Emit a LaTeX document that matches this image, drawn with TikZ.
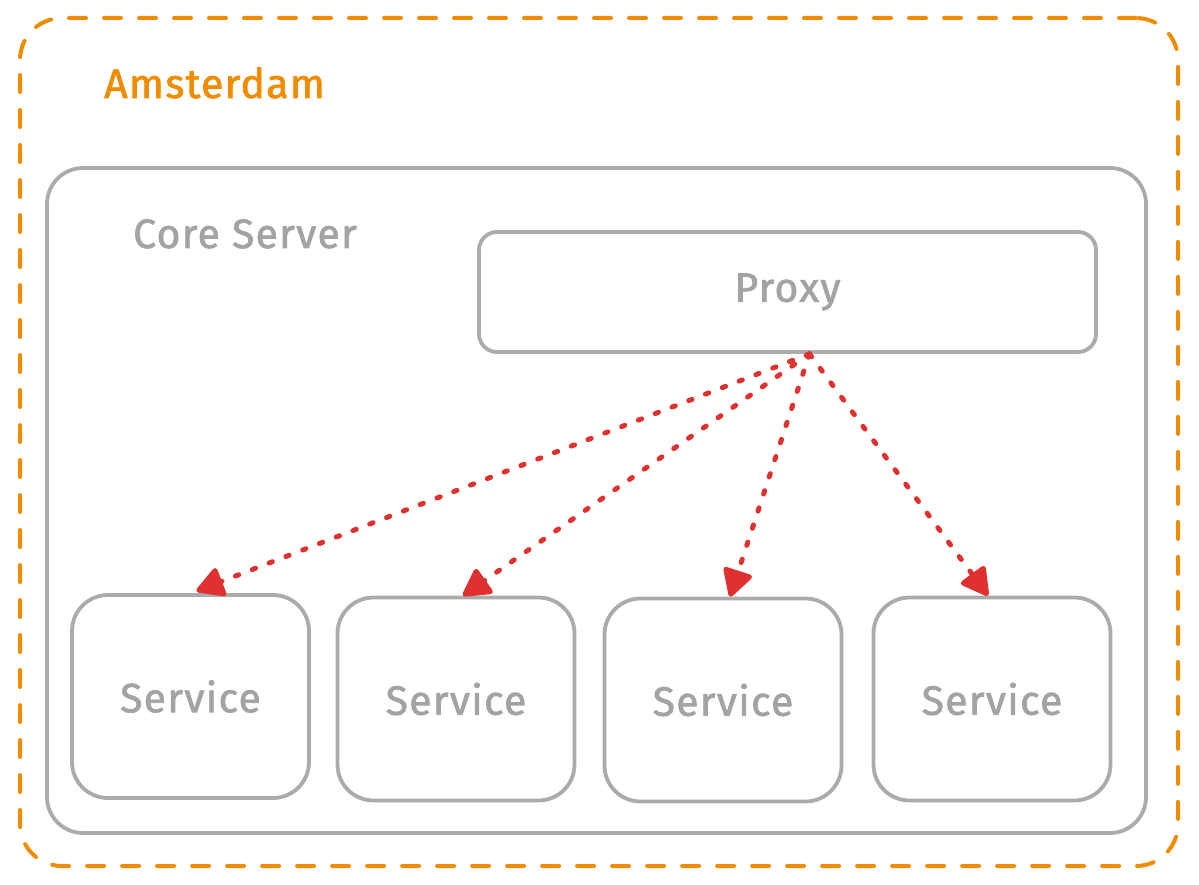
\documentclass[tikz,border=0pt]{standalone}
\usepackage{fontspec}
\setmainfont{Fira Sans}
\newfontfamily\handfont{Fira Sans}[FakeBold=1.6,LetterSpace=3]
\usetikzlibrary{arrows.meta}
\definecolor{orng}{HTML}{F08C00}
\definecolor{gry}{HTML}{ABABAB}
\definecolor{txtg}{HTML}{A3A3A3}
\definecolor{rd}{HTML}{E03131}
\newcommand\bigtxt{\fontsize{41}{48}\selectfont\handfont}
\begin{document}
\begin{tikzpicture}[x=1pt,y=-1pt,
  region/.style={draw=orng, line width=4pt, dash pattern=on 17pt off 18pt, line cap=round, rounded corners=42pt, inner sep=0pt},
  box/.style={draw=gry, line width=3.8pt, rounded corners=#1, fill=white, inner sep=0pt, text=txtg, font=\bigtxt},
  svc/.style={box=36pt, minimum width=237pt, minimum height=203pt},
  lbl/.style={inner sep=0pt, anchor=base west, font=\bigtxt},
  arr/.style={draw=rd, line width=5pt, line cap=round, dash pattern=on 3.5pt off 14.5pt,
    -{Triangle[length=30pt,width=32pt,round,fill=rd]}}]
\useasboundingbox (0,0) rectangle (1199,885);
\node[region, minimum width=1158pt, minimum height=848pt] (ams) at (599,442) {};
\node[lbl, text=orng] (amslbl) at (104,98) {Amsterdam};
\node[box=36pt, minimum width=1099pt, minimum height=665pt] (core) at (596.5,500.5) {};
\node[lbl, text=txtg] (corelbl) at (133,248) {Core Server};
\node[box=18pt, minimum width=617pt, minimum height=120pt] (proxy) at (787.5,292) {Proxy};
\node[svc] (s1) at (190.5,696.5) {Service};
\node[svc] (s2) at (456,699) {Service};
\node[svc] (s3) at (723,700) {Service};
\node[svc] (s4) at (992,699) {Service};
\coordinate (ps) at ([xshift=22pt]proxy.south);
\draw[arr] (ps) -- ([xshift=6pt,yshift=2pt]s1.north);
\draw[arr] (ps) -- ([xshift=7pt]s2.north);
\draw[arr] (ps) -- ([xshift=7pt]s3.north);
\draw[arr] (ps) -- ([xshift=-4pt]s4.north);
\end{tikzpicture}
\end{document}
